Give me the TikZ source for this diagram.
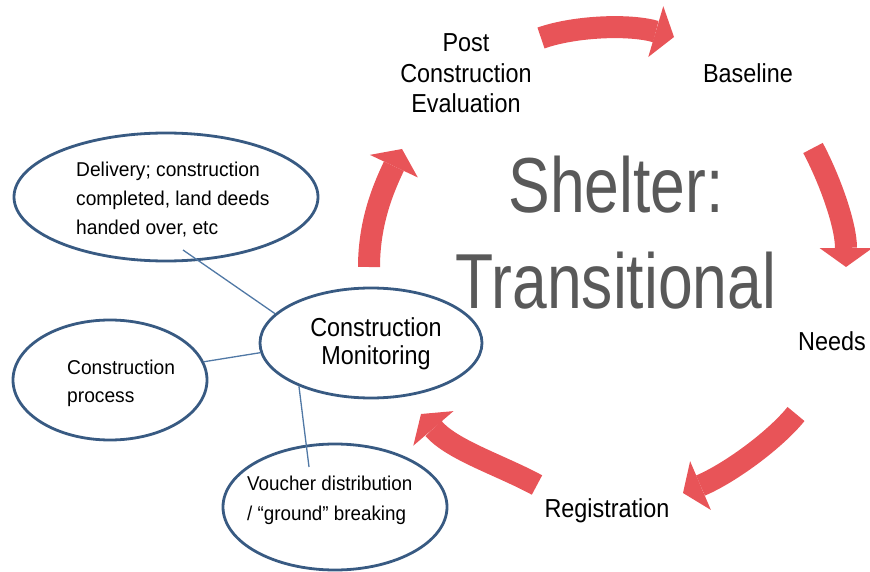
\documentclass[tikz,border=0pt]{standalone}
\usepackage{fontspec}
\setmainfont{Liberation Sans}
\usepackage{graphicx}
\usetikzlibrary{arrows.meta,shapes.geometric}
\definecolor{arrowred}{RGB}{232,84,88}
\definecolor{bubblecol}{RGB}{56,90,130}
\definecolor{linkcol}{RGB}{80,120,165}
\definecolor{bigtext}{RGB}{89,89,89}
\newcommand\narrowtext[2]{\scalebox{#1}[1]{#2}}
\begin{document}
\begin{tikzpicture}[x=1pt,y=-1pt,
  lbl/.style={font=\fontsize{26}{29}\selectfont, inner sep=0pt, anchor=base},
  smalltext/.style={font=\fontsize{20}{29}\selectfont, inner sep=0pt, anchor=base west},
  bigtitle/.style={font=\fontsize{78}{95}\selectfont, text=bigtext, inner sep=0pt, anchor=base},
  bubble/.style={ellipse, draw=bubblecol, line width=2.8pt, inner sep=0pt},
  linkline/.style={draw=linkcol, line width=1.3pt},
  cyclearrow/.style={draw=arrowred, line width=22pt,
    -{Triangle[length=19pt,width=53pt,line width=0pt]}}]
\useasboundingbox (0,0) rectangle (870,572);

% bubbles
\node[bubble, minimum width=304pt, minimum height=128pt] (del) at (166,197) {};
\node[bubble, minimum width=194pt, minimum height=120pt] (cp) at (110,380) {};
\node[bubble, minimum width=222pt, minimum height=110pt] (mon) at (371,343) {};
\node[bubble, minimum width=224pt, minimum height=126pt] (vou) at (335,507) {};

% bubble texts
\node[smalltext] (del1) at (76,177) {\narrowtext{0.96}{Delivery; construction}};
\node[smalltext] (del2) at (76,206) {\narrowtext{0.96}{completed, land deeds}};
\node[smalltext] (del3) at (76,235) {\narrowtext{0.96}{handed over, etc}};
\node[smalltext] (cp1) at (67,374) {\narrowtext{0.96}{Construction}};
\node[smalltext] (cp2) at (67,402) {\narrowtext{0.96}{process}};
\node[smalltext] (vou1) at (247,490) {\narrowtext{0.94}{Voucher distribution}};
\node[smalltext] (vou2) at (247,520) {\narrowtext{0.94}{/ “ground” breaking}};
\node[lbl] (mon1) at (376,336) {\narrowtext{0.9}{Construction}};
\node[lbl] (mon2) at (376,364) {\narrowtext{0.9}{Monitoring}};

% cycle labels
\node[lbl] (pce1) at (466,52) {\narrowtext{0.9}{Post}};
\node[lbl] (pce2) at (466,83) {\narrowtext{0.9}{Construction}};
\node[lbl] (pce3) at (466,113) {\narrowtext{0.9}{Evaluation}};
\node[lbl] (base) at (748,83) {\narrowtext{0.9}{Baseline}};
\node[lbl] (needs) at (832,350) {\narrowtext{0.9}{Needs}};
\node[lbl] (reg) at (607,517) {\narrowtext{0.9}{Registration}};

% title
\node[bigtitle] (t1) at (616,213) {\narrowtext{0.8}{Shelter:}};
\node[bigtitle] (t2) at (616,308) {\narrowtext{0.8}{Transitional}};

% links
\coordinate (delin) at (183,250);
\coordinate (vouin) at (309,467);
\draw[linkline] (delin) -- (mon.163);
\draw[linkline] (cp.11) -- (mon.185);
\draw[linkline] (mon.211) -- (vouin);

% cycle arrows
\coordinate (a1s) at (541,38);  \coordinate (a1e) at (674,37);
\coordinate (a2s) at (813,148); \coordinate (a2e) at (846,267);
\coordinate (a3s) at (796,414); \coordinate (a3e) at (683,493);
\coordinate (a4s) at (537,485); \coordinate (a4e) at (421,414);
\coordinate (a5s) at (369,267); \coordinate (a5e) at (402,149);
\draw[cyclearrow] (a1s) .. controls (575,26) and (630,24) .. (a1e);
\draw[cyclearrow] (a2s) .. controls (830,180) and (846,225) .. (a2e);
\draw[cyclearrow] (a3s) .. controls (775,440) and (730,473) .. (a3e);
\draw[cyclearrow] (a4s) .. controls (500,465) and (452,450) .. (a4e);
\draw[cyclearrow] (a5s) .. controls (369,220) and (385,185) .. (a5e);
\end{tikzpicture}
\end{document}
